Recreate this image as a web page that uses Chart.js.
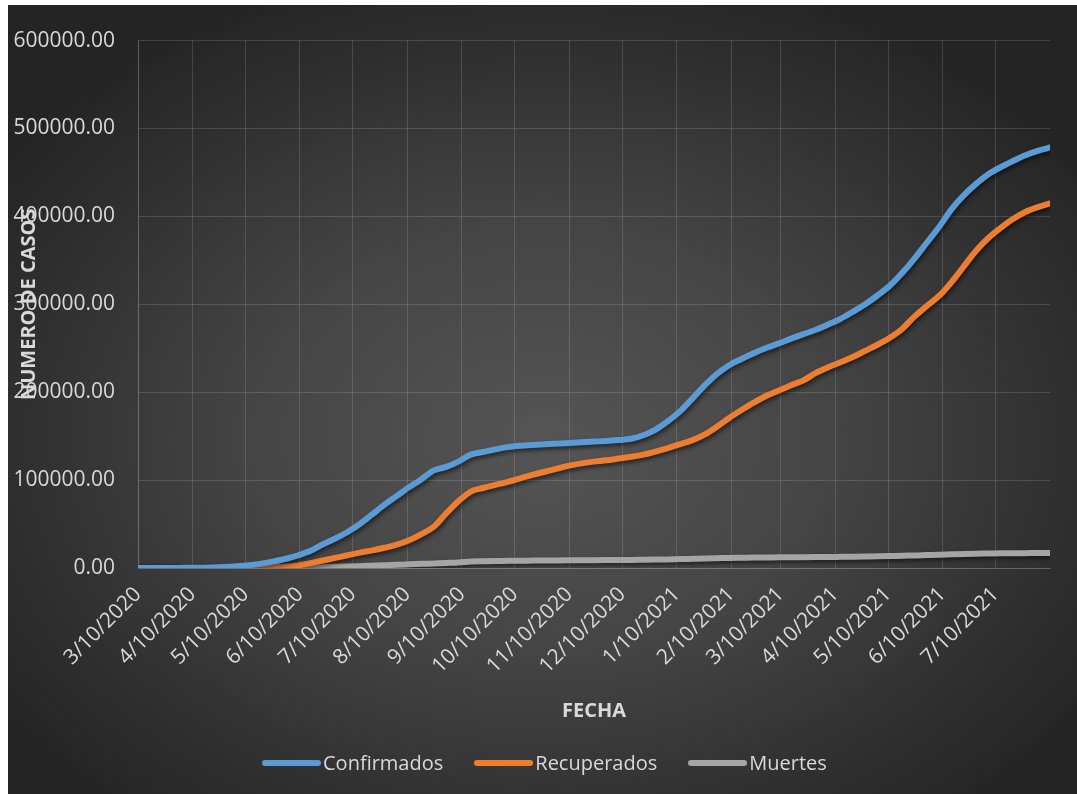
<!DOCTYPE html>
<html>
<head>
<meta charset="utf-8">
<title>Casos COVID-19</title>
<script src="https://cdn.jsdelivr.net/npm/chart.js@4.4.1/dist/chart.umd.min.js"></script>
<style>
  html, body { margin: 0; padding: 0; background: #ffffff; }
  #panel {
    position: absolute; left: 8px; top: 5px; width: 1069px; height: 789px;
    background: radial-gradient(ellipse 62% 62% at 50% 55%, #555555 0%, #444444 45%, #2f2f2f 80%, #242424 100%);
    overflow: hidden;
  }
  canvas { display: block; }
  #legend {
    position: absolute; left: 254px; top: 745px; height: 25px;
    display: flex; align-items: center;
    font-family: "Open Sans", "Noto Sans", sans-serif; font-size: 20px; color: #d9d9d9;
  }
  .item { display: flex; align-items: center; margin-right: 31px; white-space: nowrap; }
  .swatch { width: 59px; height: 6px; border-radius: 3px; margin-right: 2px; }
</style>
</head>
<body>
<div id="panel"><canvas id="chart" width="1069" height="789"></canvas><div id="legend"></div></div>
<script>
// Month tick labels and their offsets in days from 3/10/2020
const monthLabels = ['3/10/2020','4/10/2020','5/10/2020','6/10/2020','7/10/2020','8/10/2020','9/10/2020',
  '10/10/2020','11/10/2020','12/10/2020','1/10/2021','2/10/2021','3/10/2021','4/10/2021','5/10/2021',
  '6/10/2021','7/10/2021'];
const monthDays = [0,31,61,92,122,153,184,214,245,275,306,337,365,396,426,457,487];
const lastDay = 518; // 8/10/2021

// Weekly samples (day offsets from 3/10/2020)
const sampleDays = [];
for (let d = 0; d <= 511; d += 7) sampleDays.push(d);
sampleDays.push(lastDay);

const confirmados = [0,20,60,120,200,350,550,1100,2000,3200,5000,7500,10500,14500,19500,27000,33500,41000,
  50000,61000,72000,82000,92000,101000,111000,115000,121000,129000,132000,135000,137500,139000,140000,140800,
  141500,142200,143000,143800,144600,145500,147000,151000,157500,167000,178500,193000,208000,221000,231000,
  238000,244500,250500,255500,261000,266000,271000,277000,283500,291500,300000,310000,321000,335500,352000,
  370000,388000,408000,424000,437000,448000,456000,463000,469500,474500,478500];

const recuperados = [0,0,0,0,5,20,40,90,180,300,500,900,1500,3000,5500,8500,11500,14500,17500,20000,23000,
  26500,31500,38500,47000,62000,76000,87000,91000,94500,98000,102000,106000,109500,113000,116500,119000,
  121000,122500,124500,126500,129000,132500,136500,141000,145500,152000,161000,171000,180000,188500,196000,
  202000,208000,213500,222000,228500,234000,240000,247000,254000,262000,272000,286000,298000,309500,325000,
  343000,361000,375500,387000,397000,405000,410500,414700];

const muertes = [0,0,0,5,15,30,45,80,110,140,200,280,360,480,680,990,1300,1650,2100,2600,3100,3700,4200,
  4700,5200,5700,6300,7500,7800,8000,8150,8300,8400,8500,8600,8700,8800,8900,9000,9100,9200,9400,9600,9800,
  10100,10500,10900,11200,11500,11700,11900,12000,12100,12200,12300,12400,12500,12700,12900,13100,13300,
  13600,14000,14200,14700,15200,15600,16000,16300,16500,16700,16800,16900,17000,17100];

const seriesNames = ['Confirmados', 'Recuperados', 'Muertes'];
const seriesColors = ['#5b9bd5', '#ed7d31', '#a5a5a5'];
const xTitle = 'FECHA';
const yTitle = 'NUMERO DE CASOS';

const textColor = '#d9d9d9';
const gridColor = 'rgba(255,255,255,0.14)';
const family = '"Open Sans", "Noto Sans", sans-serif';

const toPoints = values => sampleDays.map((d, i) => ({ x: d, y: values[i] }));

// Soft drop shadow under each line
const lineShadow = {
  id: 'lineShadow',
  beforeDatasetDraw(chart) {
    const c = chart.ctx;
    c.save();
    c.shadowColor = 'rgba(0,0,0,0.55)';
    c.shadowBlur = 4;
    c.shadowOffsetX = 1.5;
    c.shadowOffsetY = 2.5;
  },
  afterDatasetDraw(chart) { chart.ctx.restore(); }
};

// Vertical axis title drawn across the tick label column
const yAxisTitle = {
  id: 'yAxisTitle',
  afterDraw(chart) {
    const c = chart.ctx, area = chart.chartArea;
    c.save();
    c.translate(21, (area.top + area.bottom) / 2);
    c.rotate(-Math.PI / 2);
    c.font = 'bold 20px ' + family;
    c.fillStyle = textColor;
    c.textAlign = 'center';
    c.textBaseline = 'middle';
    c.fillText(yTitle, 0, 0);
    c.restore();
  }
};

const datasets = [confirmados, recuperados, muertes].map((vals, i) => ({
  label: seriesNames[i],
  data: toPoints(vals),
  borderColor: seriesColors[i],
  backgroundColor: seriesColors[i],
  borderWidth: 6,
  borderCapStyle: 'round',
  borderJoinStyle: 'round',
  pointRadius: 0,
  cubicInterpolationMode: 'monotone',
  fill: false
}));

const chart = new Chart(document.getElementById('chart'), {
  type: 'line',
  data: { datasets },
  plugins: [lineShadow, yAxisTitle],
  options: {
    responsive: false,
    animation: false,
    events: [],
    layout: { padding: { top: 33, right: 27, bottom: 70, left: 0 } },
    plugins: {
      tooltip: { enabled: false },
      legend: { display: false }
    },
    scales: {
      x: {
        type: 'linear',
        min: 0,
        max: lastDay,
        afterBuildTicks: s => { s.ticks = monthDays.map(v => ({ value: v })); },
        afterFit: s => { s.height = 156; },
        ticks: {
          autoSkip: false,
          minRotation: 45,
          maxRotation: 45,
          padding: 14,
          color: textColor,
          font: { family, size: 21 },
          callback: (v, i) => monthLabels[i]
        },
        grid: { color: gridColor, drawTicks: false },
        border: { color: gridColor },
        title: {
          display: true,
          text: xTitle,
          color: textColor,
          font: { family, size: 20, weight: 'bold' },
          padding: { top: 0, bottom: 1 }
        }
      },
      y: {
        min: 0,
        max: 600000,
        afterFit: s => { s.width = 130; },
        ticks: {
          stepSize: 100000,
          padding: 23,
          color: textColor,
          font: { family, size: 21 },
          callback: v => v.toFixed(2)
        },
        grid: { color: gridColor, drawTicks: false },
        border: { color: gridColor }
      }
    }
  }
});

// Legend built from the chart's datasets
const legendEl = document.getElementById('legend');
chart.data.datasets.forEach(ds => {
  const item = document.createElement('div');
  item.className = 'item';
  const sw = document.createElement('span');
  sw.className = 'swatch';
  sw.style.background = ds.borderColor;
  const label = document.createElement('span');
  label.textContent = ds.label;
  item.appendChild(sw);
  item.appendChild(label);
  legendEl.appendChild(item);
});
</script>
</body>
</html>
